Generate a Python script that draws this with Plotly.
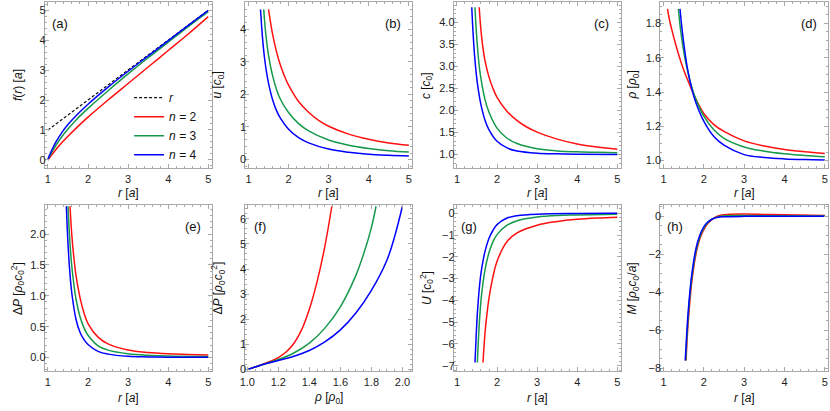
import plotly.graph_objects as go

# ── Palette ───────────────────────────────────────────────────────────────────
RED      = "#ff1010"
GREEN    = "#16994a"
BLUE     = "#0000ff"
FRAME    = "#a8a8a8"
TICK_TXT = "#1e1e1e"
FONT     = "Liberation Sans, Arial, sans-serif"

W, H = 830, 411

# ── Data ──────────────────────────────────────────────────────────────────────
# (a) f(r)
R_LINE = [1, 5]
F_LINE = [1, 5]
R_A2 = [1, 1.05, 1.1, 1.2, 1.35, 1.5, 1.75, 2, 2.5, 3, 3.5, 4, 4.5, 5]
F_A2 = [0, 0.09, 0.18, 0.35, 0.58, 0.79, 1.12, 1.43, 2.0, 2.55, 3.1, 3.65, 4.2, 4.78]
R_A3 = [1, 1.02, 1.05, 1.1, 1.2, 1.35, 1.5, 1.75, 2, 2.5, 3, 3.5, 4, 4.5, 5]
F_A3 = [0, 0.08, 0.15, 0.27, 0.49, 0.78, 1.03, 1.4, 1.72, 2.31, 2.87, 3.41, 3.93, 4.45, 4.95]
R_A4 = [1, 1.02, 1.05, 1.1, 1.2, 1.35, 1.5, 1.75, 2, 2.5, 3, 3.5, 4, 4.5, 5]
F_A4 = [0, 0.1, 0.19, 0.34, 0.6, 0.92, 1.18, 1.54, 1.86, 2.43, 2.96, 3.47, 3.98, 4.49, 4.99]

# (b) u
R_B2 = [1.5, 1.6, 1.7, 1.8, 1.9, 2, 2.25, 2.5, 2.75, 3, 3.5, 4, 4.5, 5]
U_B2 = [4.6, 3.85, 3.3, 2.88, 2.55, 2.28, 1.78, 1.45, 1.2, 1.02, 0.78, 0.62, 0.51, 0.44]
R_B3 = [1.38, 1.42, 1.46, 1.5, 1.6, 1.7, 1.8, 2, 2.25, 2.5, 3, 3.5, 4, 4.5, 5]
U_B3 = [4.6, 4.0, 3.55, 3.2, 2.58, 2.15, 1.84, 1.44, 1.1, 0.88, 0.6, 0.44, 0.34, 0.27, 0.23]
R_B4 = [1.3, 1.33, 1.36, 1.4, 1.45, 1.5, 1.6, 1.7, 1.8, 2, 2.25, 2.5, 3, 3.5, 4, 4.5, 5]
U_B4 = [4.6, 4.05, 3.6, 3.12, 2.68, 2.34, 1.84, 1.5, 1.26, 0.93, 0.67, 0.51, 0.32, 0.22, 0.16, 0.13, 0.11]

# (c) c
R_C2 = [1.555, 1.58, 1.62, 1.66, 1.7, 1.8, 1.9, 2, 2.25, 2.5, 2.75, 3, 3.5, 4, 4.5, 5]
C_C2 = [4.35, 4.03, 3.64, 3.35, 3.13, 2.76, 2.5, 2.3, 1.98, 1.77, 1.62, 1.51, 1.35, 1.24, 1.17, 1.12]
R_C3 = [1.45, 1.48, 1.52, 1.56, 1.6, 1.7, 1.8, 2, 2.25, 2.5, 3, 3.5, 4, 4.5, 5]
C_C3 = [4.35, 3.85, 3.35, 2.98, 2.72, 2.25, 1.96, 1.6, 1.37, 1.25, 1.13, 1.08, 1.06, 1.05, 1.04]
R_C4 = [1.37, 1.4, 1.44, 1.48, 1.52, 1.6, 1.7, 1.8, 2, 2.25, 2.5, 3, 3.5, 4, 5]
C_C4 = [4.35, 3.8, 3.25, 2.85, 2.55, 2.13, 1.78, 1.56, 1.3, 1.15, 1.08, 1.03, 1.015, 1.008, 1.0]

# (d) rho
R_D2 = [1.1, 1.15, 1.2, 1.3, 1.4, 1.5, 1.6, 1.8, 2, 2.25, 2.5, 3, 3.5, 4, 4.5, 5]
P_D2 = [1.885, 1.82, 1.77, 1.68, 1.6, 1.53, 1.47, 1.36, 1.275, 1.21, 1.17, 1.115, 1.085, 1.065, 1.052, 1.042]
R_D3 = [1.37, 1.42, 1.5, 1.6, 1.7, 1.8, 2, 2.25, 2.5, 3, 3.5, 4, 4.5, 5]
P_D3 = [1.885, 1.77, 1.64, 1.52, 1.43, 1.36, 1.26, 1.18, 1.13, 1.08, 1.055, 1.04, 1.03, 1.022]
R_D4 = [1.41, 1.45, 1.5, 1.6, 1.7, 1.8, 2, 2.25, 2.5, 3, 3.5, 4, 4.5, 5]
P_D4 = [1.885, 1.79, 1.69, 1.53, 1.42, 1.34, 1.23, 1.14, 1.09, 1.035, 1.018, 1.01, 1.006, 1.004]

# (e) Delta P vs r
R_E2 = [1.55, 1.6, 1.65, 1.7, 1.8, 1.9, 2, 2.25, 2.5, 3, 3.5, 4, 4.5, 5]
Q_E2 = [2.45, 1.95, 1.6, 1.33, 0.97, 0.72, 0.55, 0.33, 0.22, 0.12, 0.08, 0.06, 0.05, 0.04]
R_E3 = [1.5, 1.55, 1.6, 1.7, 1.8, 1.9, 2, 2.25, 2.5, 3, 3.5, 4, 5]
Q_E3 = [2.45, 1.85, 1.45, 0.95, 0.66, 0.48, 0.36, 0.19, 0.12, 0.06, 0.035, 0.025, 0.016]
R_E4 = [1.46, 1.5, 1.55, 1.6, 1.7, 1.8, 1.9, 2, 2.25, 2.5, 3, 3.5, 4, 5]
Q_E4 = [2.45, 1.85, 1.35, 1.02, 0.62, 0.41, 0.29, 0.21, 0.1, 0.055, 0.02, 0.01, 0.006, 0.003]

# (f) Delta P vs rho
RHO_F2 = [1.0, 1.05, 1.1, 1.15, 1.2, 1.25, 1.3, 1.35, 1.4, 1.45, 1.5, 1.545]
Q_F2   = [0, 0.1, 0.21, 0.33, 0.48, 0.7, 1.04, 1.58, 2.4, 3.5, 4.9, 6.5]
RHO_F3 = [1.0, 1.05, 1.1, 1.2, 1.3, 1.4, 1.5, 1.6, 1.7, 1.75, 1.8, 1.83]
Q_F3   = [0, 0.1, 0.2, 0.4, 0.66, 1.05, 1.65, 2.5, 3.75, 4.6, 5.65, 6.5]
RHO_F4 = [1.0, 1.05, 1.1, 1.2, 1.3, 1.4, 1.5, 1.6, 1.7, 1.8, 1.9, 1.95, 2.0]
Q_F4   = [0, 0.1, 0.2, 0.36, 0.53, 0.76, 1.1, 1.58, 2.25, 3.15, 4.35, 5.3, 6.5]

# (g) U
R_G2 = [1.65, 1.7, 1.75, 1.8, 1.9, 2, 2.25, 2.5, 3, 3.5, 4, 4.5, 5]
U_G2 = [-6.85, -5.5, -4.6, -3.9, -2.9, -2.2, -1.3, -0.9, -0.55, -0.38, -0.28, -0.22, -0.18]
R_G3 = [1.51, 1.55, 1.6, 1.65, 1.7, 1.8, 1.9, 2, 2.25, 2.5, 3, 3.5, 4, 5]
U_G3 = [-6.85, -5.3, -4.0, -3.2, -2.6, -1.8, -1.3, -0.98, -0.55, -0.34, -0.17, -0.1, -0.08, -0.05]
R_G4 = [1.45, 1.48, 1.52, 1.56, 1.6, 1.7, 1.8, 1.9, 2, 2.25, 2.5, 3, 4, 5]
U_G4 = [-6.85, -5.6, -4.3, -3.4, -2.75, -1.75, -1.15, -0.78, -0.52, -0.22, -0.11, -0.04, -0.01, -0.005]

# (h) M
R_H2 = [1.56, 1.6, 1.65, 1.7, 1.8, 1.9, 2, 2.1, 2.2, 2.35, 2.5, 3, 3.5, 4, 5]
M_H2 = [-7.6, -6.0, -4.6, -3.5, -2.05, -1.2, -0.7, -0.38, -0.17, 0.02, 0.09, 0.12, 0.1, 0.08, 0.05]
R_H3 = [1.55, 1.6, 1.65, 1.7, 1.8, 1.9, 2, 2.1, 2.2, 2.35, 2.5, 3, 4, 5]
M_H3 = [-7.6, -5.7, -4.3, -3.3, -1.9, -1.1, -0.62, -0.33, -0.15, -0.02, 0.03, 0.04, 0.03, 0.02]
R_H4 = [1.54, 1.6, 1.65, 1.7, 1.8, 1.9, 2, 2.1, 2.2, 2.35, 2.5, 3, 4, 5]
M_H4 = [-7.6, -5.4, -4.1, -3.1, -1.75, -1.0, -0.55, -0.3, -0.15, -0.05, -0.02, 0.0, 0.0, 0.0]

LEGEND_NAMES = ["<i>n</i> = 2", "<i>n</i> = 3", "<i>n</i> = 4"]

# ── Layout geometry (pixels) ─────────────────────────────────────────────────
COLS = [(39, 207), (241, 409), (451, 619), (659, 828)]
ROWS = [(2, 170), (207, 375)]
R_RANGE = [0.92, 5.08]

R_TITLE = "<i>r</i> [<i>a</i>]"
DP_TITLE = "Δ<i>P</i> [<i>ρ</i><sub>0</sub><i>c</i><sub>0</sub><sup>2</sup>]"

PANELS = [
    dict(lab="(a)", xr=R_RANGE, yr=[-0.28, 5.27], xd=(1, 0.2), yd=(1, 0.2), yf=None,
         xt=R_TITLE, yt="<i>f</i>(<i>r</i>) [<i>a</i>]", lp="left",
         curves=[(R_A2, F_A2), (R_A3, F_A3), (R_A4, F_A4)]),
    dict(lab="(b)", xr=R_RANGE, yr=[-0.27, 4.83], xd=(1, 0.2), yd=(1, 0.2), yf=None,
         xt=R_TITLE, yt="<i>u</i> [<i>c</i><sub>0</sub>]", lp="right",
         curves=[(R_B2, U_B2), (R_B3, U_B3), (R_B4, U_B4)]),
    dict(lab="(c)", xr=R_RANGE, yr=[0.685, 4.47], xd=(1, 0.2), yd=(0.5, 0.1), yf=".1f",
         xt=R_TITLE, yt="<i>c</i> [<i>c</i><sub>0</sub>]", lp="right",
         curves=[(R_C2, C_C2), (R_C3, C_C3), (R_C4, C_C4)]),
    dict(lab="(d)", xr=R_RANGE, yr=[0.955, 1.925], xd=(1, 0.2), yd=(0.2, 0.05), yf=".1f",
         xt=R_TITLE, yt="<i>ρ</i> [<i>ρ</i><sub>0</sub>]", lp="right",
         curves=[(R_D2, P_D2), (R_D3, P_D3), (R_D4, P_D4)]),
    dict(lab="(e)", xr=R_RANGE, yr=[-0.224, 2.47], xd=(1, 0.2), yd=(0.5, 0.1), yf=".1f",
         xt=R_TITLE, yt=DP_TITLE, lp="right",
         curves=[(R_E2, Q_E2), (R_E3, Q_E3), (R_E4, Q_E4)]),
    dict(lab="(f)", xr=[0.987, 2.062], yr=[-0.07, 6.55], xd=(0.2, 0.05), yd=(1, 0.2), yf=None,
         xt="<i>ρ</i> [<i>ρ</i><sub>0</sub>]", yt=DP_TITLE, lp="left", xf=".1f",
         curves=[(RHO_F2, Q_F2), (RHO_F3, Q_F3), (RHO_F4, Q_F4)]),
    dict(lab="(g)", xr=R_RANGE, yr=[-7.26, 0.38], xd=(1, 0.2), yd=(1, 0.2), yf=None,
         xt=R_TITLE, yt="<i>U</i> [<i>c</i><sub>0</sub><sup>2</sup>]", lp="left",
         curves=[(R_G2, U_G2), (R_G3, U_G3), (R_G4, U_G4)]),
    dict(lab="(h)", xr=R_RANGE, yr=[-8.17, 0.6], xd=(1, 0.2), yd=(2, 0.5), yf=None,
         xt=R_TITLE, yt="<i>M</i> [<i>ρ</i><sub>0</sub><i>c</i><sub>0</sub>/<i>a</i>]", lp="left",
         curves=[(R_H2, M_H2), (R_H3, M_H3), (R_H4, M_H4)]),
]


def _axis(rng, dt, fmt, domain, anchor, standoff=0):
    major, minor = dt
    ax = dict(
        domain=domain, anchor=anchor, range=rng,
        showline=True, linecolor=FRAME, linewidth=1, mirror="allticks",
        ticks="inside", ticklen=4, tickwidth=1, tickcolor=FRAME,
        tick0=0, dtick=major, ticklabelstandoff=standoff,
        minor=dict(ticks="inside", ticklen=2, tick0=0, dtick=minor, tickcolor=FRAME),
        showgrid=False, zeroline=False, fixedrange=True,
        tickfont=dict(family=FONT, size=11, color=TICK_TXT),
    )
    if fmt:
        ax["tickformat"] = fmt
    return ax


fig = go.Figure()
annotations = []
layout = dict(
    width=W, height=H,
    margin=dict(l=0, r=0, t=0, b=0),
    paper_bgcolor="white", plot_bgcolor="white",
    font=dict(family=FONT, color=TICK_TXT),
    showlegend=True,
    legend=dict(
        x=124 / W, y=1 - 84 / H, xanchor="left", yanchor="top",
        bgcolor="rgba(0,0,0,0)", font=dict(family=FONT, size=12, color="#111"),
        itemwidth=30, tracegroupgap=0,
    ),
)

for i, p in enumerate(PANELS):
    row, col = divmod(i, 4)
    x0, x1 = COLS[col]
    y0, y1 = ROWS[row]
    k = "" if i == 0 else str(i + 1)
    xa, ya = "x" + k, "y" + k
    layout["xaxis" + k] = _axis(p["xr"], p["xd"], p.get("xf"), [x0 / W, x1 / W], ya)
    layout["yaxis" + k] = _axis(p["yr"], p["yd"], p["yf"], [1 - y1 / H, 1 - y0 / H], xa, -4)

    if i == 0:
        fig.add_trace(go.Scatter(
            x=R_LINE, y=F_LINE, xaxis=xa, yaxis=ya, mode="lines",
            line=dict(color="#111", width=1.2, dash="3px,2px"),
            name="<i>r</i>", showlegend=True,
        ))
    for (xs, ys), color, name in zip(p["curves"], [RED, GREEN, BLUE], LEGEND_NAMES):
        fig.add_trace(go.Scatter(
            x=xs, y=ys, xaxis=xa, yaxis=ya, mode="lines",
            line=dict(color=color, width=1.5, shape="spline", smoothing=1.0),
            name=name, showlegend=(i == 0),
        ))

    # panel tag
    lx = x0 + 15 if p["lp"] == "left" else x1 - 19
    annotations.append(dict(
        text=p["lab"], x=lx / W, y=1 - (y0 + 22) / H, xref="paper", yref="paper",
        xanchor="center", yanchor="middle", showarrow=False,
        font=dict(family=FONT, size=13, color="#111"),
    ))
    # axis titles
    annotations.append(dict(
        text=p["xt"], x=(x0 + x1) / 2 / W, y=1 - (y1 + 25 + 2 * row) / H,
        xref="paper", yref="paper", xanchor="center", yanchor="middle", showarrow=False,
        font=dict(family=FONT, size=12, color="#111"),
    ))
    annotations.append(dict(
        text=p["yt"], x=(x0 - 27) / W, y=1 - (y0 + y1) / 2 / H, xref="paper", yref="paper",
        xanchor="center", yanchor="middle", showarrow=False, textangle=-90,
        font=dict(family=FONT, size=12, color="#111"),
    ))

layout["annotations"] = annotations
fig.update_layout(**layout)
# page body margin would push the 830px figure off the window
fig.write_html("out.html", config={"displayModeBar": False},
               post_script="document.body.style.margin='0';document.body.style.overflow='hidden';")
